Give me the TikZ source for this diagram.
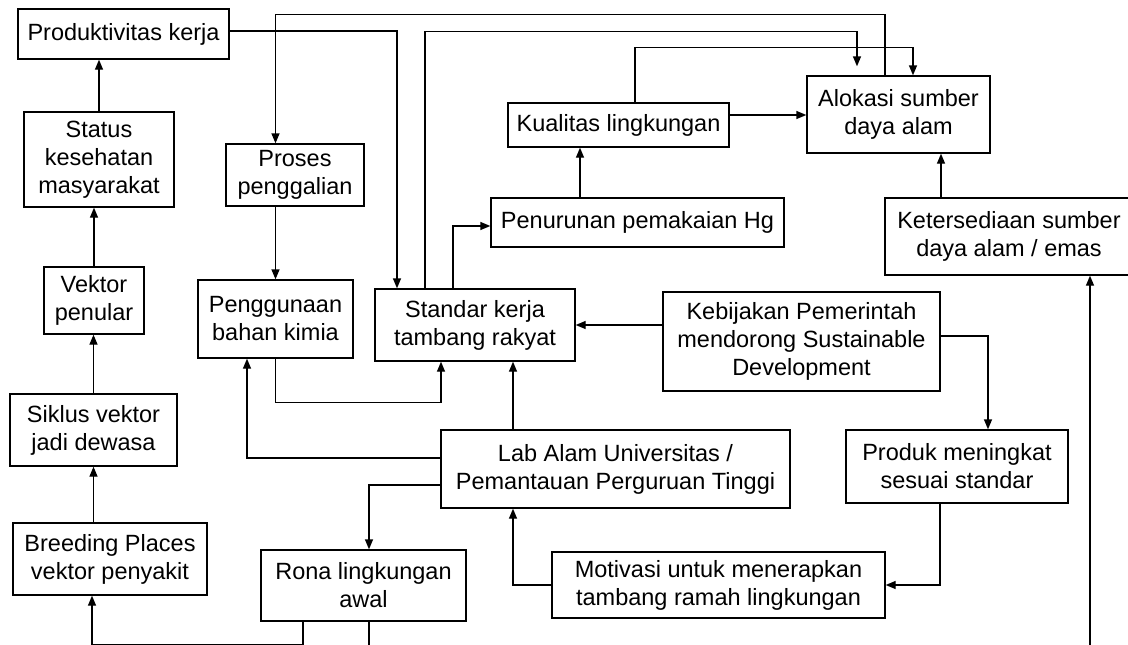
\documentclass[tikz,border=0pt]{standalone}
\usepackage{fontspec}
\setmainfont{Liberation Sans}
\usetikzlibrary{arrows.meta,calc}
\begin{document}
\begin{tikzpicture}[x=1pt,y=-1pt,
  box/.style={draw, line width=1.35pt, inner sep=0pt, align=center,
    font=\fontsize{23.5}{28}\selectfont},
  arr/.style={line width=1.35pt, -{Triangle[length=10pt,width=8pt]}},
  ln/.style={line width=1.35pt}]
\useasboundingbox (0,0) rectangle (1128,645);
\clip (0,0) rectangle (1128,645);
% nodes
\node[box, minimum width=211pt, minimum height=50pt] (prod) at (123.5,34) {Produktivitas kerja};
\node[box, minimum width=150pt, minimum height=95pt] (status) at (99,159.5) {Status\\kesehatan\\masyarakat};
\node[box, minimum width=100pt, minimum height=67pt] (vektor) at (94,300.5) {Vektor\\penular};
\node[box, minimum width=167pt, minimum height=72pt] (siklus) at (93.5,430) {Siklus vektor\\jadi dewasa};
\node[box, minimum width=194pt, minimum height=72pt] (breed) at (110,559) {Breeding Places\\vektor penyakit};
\node[box, minimum width=138pt, minimum height=62pt] (proses) at (295,175) {Proses\\penggalian};
\node[box, minimum width=155pt, minimum height=78pt] (peng) at (275.5,319) {Penggunaan\\bahan kimia};
\node[box, minimum width=200pt, minimum height=72pt] (standar) at (475,325) {Standar kerja\\tambang rakyat};
\node[box, minimum width=221pt, minimum height=44pt] (kual) at (618.5,125) {Kualitas lingkungan};
\node[box, minimum width=293pt, minimum height=49pt] (penur) at (637.5,222.5) {Penurunan pemakaian Hg};
\node[box, minimum width=183pt, minimum height=77pt] (alok) at (898.5,114.5) {Alokasi sumber\\daya alam};
\node[box, minimum width=248pt, minimum height=77pt] (keters) at (1009,236.5) {Ketersediaan sumber\\daya alam / emas};
\node[box, minimum width=277pt, minimum height=99pt] (keb) at (801.5,341.5) {Kebijakan Pemerintah\\mendorong Sustainable\\Development};
\node[box, minimum width=349pt, minimum height=78pt] (lab) at (615.5,469) {Lab Alam Universitas /\\Pemantauan Perguruan Tinggi};
\node[box, minimum width=222pt, minimum height=73pt] (produk) at (957,466.5) {Produk meningkat\\sesuai standar};
\node[box, minimum width=333pt, minimum height=66pt] (motiv) at (718.5,585) {Motivasi untuk menerapkan\\tambang ramah lingkungan};
\node[box, minimum width=205pt, minimum height=71pt] (rona) at (363.5,585.5) {Rona lingkungan\\awal};
\coordinate (rbot) at (369,652);
\coordinate (kbot) at (1090,652);
% connectors
\draw[arr] (status.north) -- (status.north |- prod.south);
\draw[arr] (vektor.north) -- (vektor.north |- status.south);
\draw[arr] (siklus.north) -- (siklus.north |- vektor.south);
\draw[arr] (siklus.south |- breed.north) -- (siklus.south);
\draw[arr] ([xshift=-60.5pt]rona.south) -- ++(0,23) -| ([xshift=-18pt]breed.south);
\draw[ln] (rona.south -| rbot) -- (rbot);
\draw[arr] ([yshift=-16pt]lab.west) -| (rona.north -| rbot);
\draw[arr] ([yshift=11pt]lab.west) -| ([xshift=-28.5pt]peng.south);
\draw[arr] ([xshift=-102.5pt]lab.north) -- ([xshift=-102.5pt]lab.north |- standar.south);
\draw[arr] (motiv.west) -| ([xshift=-102.5pt]lab.south);
\draw[arr] ([xshift=-17pt]produk.south) |- (motiv.east);
\draw[arr] ([yshift=5.5pt]keb.east) -| ([xshift=31pt]produk.north);
\draw[arr] (keb.west |- standar.east) -- (standar.east);
\draw[arr] (peng.south) -- ++(0,44) -| ([xshift=-34pt]standar.south);
\draw[arr] (proses.south -| peng.north) -- (peng.north);
\draw[arr] ([xshift=-13.5pt]alok.north) -- ++(0,-61) -| (proses.north -| peng.north);
\draw[arr] ([yshift=3pt]prod.east) -| ([xshift=-78pt]standar.north);
\draw[arr] ([xshift=-50pt]standar.north) -- ++(0,-257) -| ([xshift=-41.5pt,yshift=9pt]alok.north);
\draw[arr] ([xshift=16.5pt]kual.north) -- ++(0,-55) -| ([xshift=14.5pt]alok.north);
\draw[arr] ([yshift=10pt]kual.east) -- ([yshift=10pt]kual.east -| alok.west);
\draw[arr] ([xshift=-57.5pt]penur.north) -- ([xshift=-57.5pt]penur.north |- kual.south);
\draw[arr] ([xshift=-22pt]standar.north) |- ([yshift=-3.5pt]penur.west);
\draw[arr] ([xshift=-68pt]keters.north) -- ([xshift=-68pt]keters.north |- alok.south);
\draw[arr] (kbot) -- (kbot |- keters.south);
\end{tikzpicture}
\end{document}
